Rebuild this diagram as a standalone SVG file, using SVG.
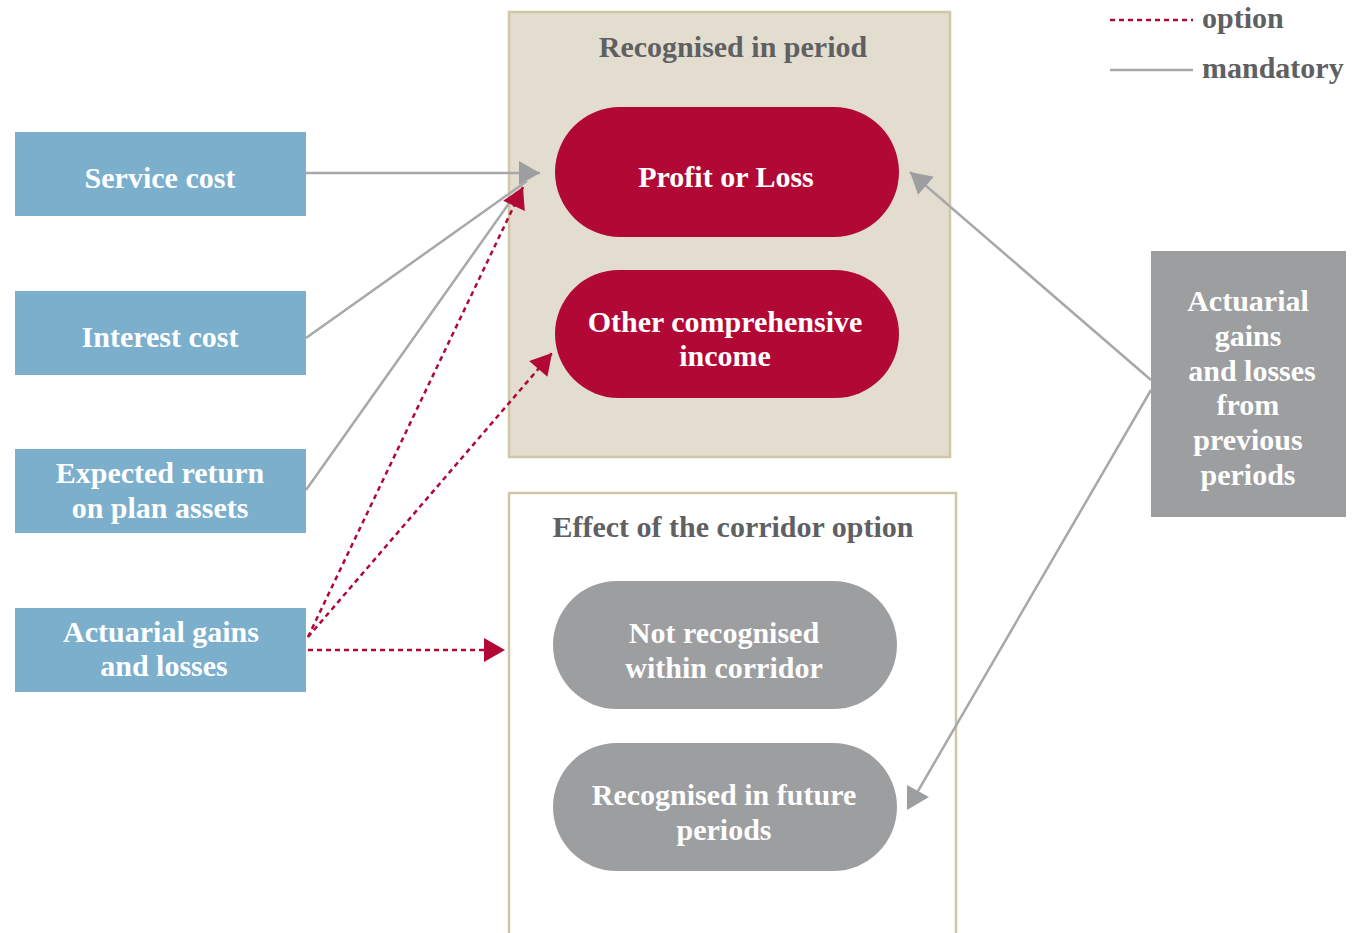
<svg xmlns="http://www.w3.org/2000/svg" width="1366" height="933" viewBox="0 0 1366 933">
<style>
.t{font-family:"Liberation Serif","DejaVu Serif",serif;font-weight:bold;font-size:30px;text-anchor:middle}
.w{fill:#ffffff}
.g{fill:#5f6062}
.lg{font-family:"Liberation Serif","DejaVu Serif",serif;font-weight:bold;font-size:30px;fill:#5f6062}
.blue{fill:#7bafcc}
.red{fill:#b10836}
.grey{fill:#9d9ea0}
.m{stroke:#a7a8aa;stroke-width:2.5;fill:none}
.o{stroke:#b10836;stroke-width:2.5;fill:none;stroke-dasharray:5,4}
</style>
<defs>
<marker id="ag" markerWidth="10" markerHeight="10" refX="9" refY="5" orient="auto" markerUnits="userSpaceOnUse" viewBox="0 0 10 10" style="overflow:visible">
<path d="M-12,-7 L9,5 L-12,17 Z" fill="#9d9ea0"/>
</marker>
<marker id="ar" markerWidth="10" markerHeight="10" refX="9" refY="5" orient="auto" markerUnits="userSpaceOnUse" viewBox="0 0 10 10" style="overflow:visible">
<path d="M-12,-7 L9,5 L-12,17 Z" fill="#b10836"/>
</marker>
</defs>

<g id="box-recognised">
<rect x="509" y="12" width="441" height="445" fill="#e3ddd0" stroke="#cfc7a6" stroke-width="2.5"/>
<text class="t g" x="733" y="57">Recognised in period</text>
</g>
<g id="box-corridor">
<path d="M509,940 L509,493 L956,493 L956,940" fill="#ffffff" stroke="#cfc7a6" stroke-width="2.5"/>
<text class="t g" x="733" y="537">Effect of the corridor option</text>
</g>

<g id="connectors">
<line class="m" x1="306" y1="173" x2="540" y2="173" marker-end="url(#ag)"/>
<line class="m" x1="306" y1="338" x2="527" y2="181"/>
<line class="m" x1="306" y1="490" x2="517" y2="192"/>
<line class="o" x1="308" y1="637" x2="523" y2="187" marker-end="url(#ar)"/>
<line class="o" x1="308" y1="637" x2="552" y2="353" marker-end="url(#ar)"/>
<line class="o" x1="308" y1="650" x2="505" y2="650" marker-end="url(#ar)"/>
<line class="m" x1="1151" y1="380" x2="910" y2="172" marker-end="url(#ag)"/>
<line class="m" x1="1151" y1="390" x2="918" y2="791"/>
<path d="M907,785 L929,797 L907,810 Z" fill="#9d9ea0"/>
</g>

<g id="legend">
<line class="o" x1="1110" y1="20" x2="1193" y2="20"/>
<text class="lg" x="1202" y="28">option</text>
<line class="m" x1="1110" y1="70" x2="1193" y2="70"/>
<text class="lg" x="1202" y="78">mandatory</text>
</g>

<g id="service-cost">
<rect class="blue" x="15" y="132" width="291" height="84"/>
<text class="t w" x="160" y="188">Service cost</text>
</g>
<g id="interest-cost">
<rect class="blue" x="15" y="291" width="291" height="84"/>
<text class="t w" x="160" y="347">Interest cost</text>
</g>
<g id="expected-return">
<rect class="blue" x="15" y="449" width="291" height="84"/>
<text class="t w" x="160" y="483">Expected return</text>
<text class="t w" x="160" y="518">on plan assets</text>
</g>
<g id="actuarial-gains">
<rect class="blue" x="15" y="608" width="291" height="84"/>
<text class="t w" x="161" y="642">Actuarial gains</text>
<text class="t w" x="164" y="676">and losses</text>
</g>

<g id="profit-or-loss">
<rect class="red" x="555" y="107" width="344" height="130" rx="65"/>
<text class="t w" x="726" y="187">Profit or Loss</text>
</g>
<g id="oci">
<rect class="red" x="555" y="270" width="344" height="128" rx="64"/>
<text class="t w" x="725" y="332">Other comprehensive</text>
<text class="t w" x="725" y="366">income</text>
</g>
<g id="not-recognised">
<rect class="grey" x="553" y="581" width="344" height="128" rx="64"/>
<text class="t w" x="724" y="643">Not recognised</text>
<text class="t w" x="724" y="678">within corridor</text>
</g>
<g id="recognised-future">
<rect class="grey" x="553" y="743" width="344" height="128" rx="64"/>
<text class="t w" x="724" y="805">Recognised in future</text>
<text class="t w" x="724" y="840">periods</text>
</g>

<g id="actuarial-previous">
<rect class="grey" x="1151" y="251" width="195" height="266"/>
<text class="t w" x="1248" y="311">Actuarial</text>
<text class="t w" x="1248" y="346">gains</text>
<text class="t w" x="1252" y="381">and losses</text>
<text class="t w" x="1248" y="415">from</text>
<text class="t w" x="1248" y="450">previous</text>
<text class="t w" x="1248" y="485">periods</text>
</g>
</svg>
